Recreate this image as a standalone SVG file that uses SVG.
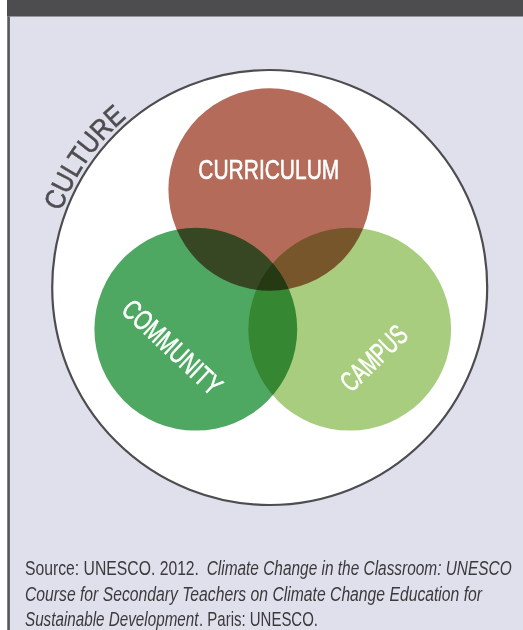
<svg xmlns="http://www.w3.org/2000/svg" width="523" height="630" viewBox="0 0 523 630">
<style>
.lbl{font-family:"Liberation Sans Narrow","Liberation Sans",Arial,sans-serif;font-size:28px;fill:#ffffff;stroke:#ffffff;stroke-width:0.6px;text-anchor:middle}
.ven{mix-blend-mode:multiply}
.src{font-family:"Liberation Sans Narrow","Liberation Sans",Arial,sans-serif;font-size:20.5px;fill:#3a3a3c}
.it{font-style:italic}
</style>
<defs>
<path id="culturePath" d="M 61.1 211.6 A 222 222 0 0 1 269.7 65.5"/>
</defs>
<rect x="0" y="0" width="523" height="630" fill="#ffffff"/>
<rect x="7" y="0" width="516" height="630" fill="#e0e0ed"/>
<rect x="7" y="0" width="516" height="16.5" fill="#4d4d4f"/>
<rect x="7.3" y="16.5" width="2.6" height="613.5" fill="#58585a"/>
<g id="culture">
<circle cx="269.7" cy="287.5" r="217.5" fill="#ffffff" stroke="#4d4d4f" stroke-width="2.2"/>
<text font-family="Liberation Sans Narrow,Liberation Sans,Arial,sans-serif" font-size="28" fill="#4d4d4f" stroke="#4d4d4f" stroke-width="0.6"><textPath href="#culturePath" textLength="116" lengthAdjust="spacingAndGlyphs">CULTURE</textPath></text>
</g>
<g style="isolation:isolate">
<g id="curriculum"><circle class="ven" cx="269.7" cy="189.5" r="101.3" fill="#b56b59"/></g>
<g id="community"><circle class="ven" cx="195.8" cy="329.2" r="101.4" fill="#4fa862"/></g>
<g id="campus"><circle class="ven" cx="349.7" cy="329.2" r="101.4" fill="#a9cd7e"/></g>
</g>
<g id="labels">
<text class="lbl" x="268.8" y="179.3" textLength="141" lengthAdjust="spacingAndGlyphs">CURRICULUM</text>
<text class="lbl" transform="translate(165.7 354.3) rotate(43)" x="0" y="0" textLength="125" lengthAdjust="spacingAndGlyphs">COMMUNITY</text>
<text class="lbl" transform="translate(380.4 365.2) rotate(-44)" x="0" y="0" textLength="81" lengthAdjust="spacingAndGlyphs">CAMPUS</text>
</g>
<g id="connectors"></g>
<g id="source">
<text class="src" x="25" y="575" textLength="174" lengthAdjust="spacingAndGlyphs">Source: UNESCO. 2012.</text>
<text class="src it" x="206.7" y="575" textLength="305" lengthAdjust="spacingAndGlyphs">Climate Change in the Classroom: UNESCO</text>
<text class="src it" x="25" y="600.6" textLength="457" lengthAdjust="spacingAndGlyphs">Course for Secondary Teachers on Climate Change Education for</text>
<text class="src it" x="25" y="626" textLength="173.5" lengthAdjust="spacingAndGlyphs">Sustainable Development</text>
<text class="src" x="199" y="626" textLength="119" lengthAdjust="spacingAndGlyphs">. Paris: UNESCO.</text>
</g>
</svg>
